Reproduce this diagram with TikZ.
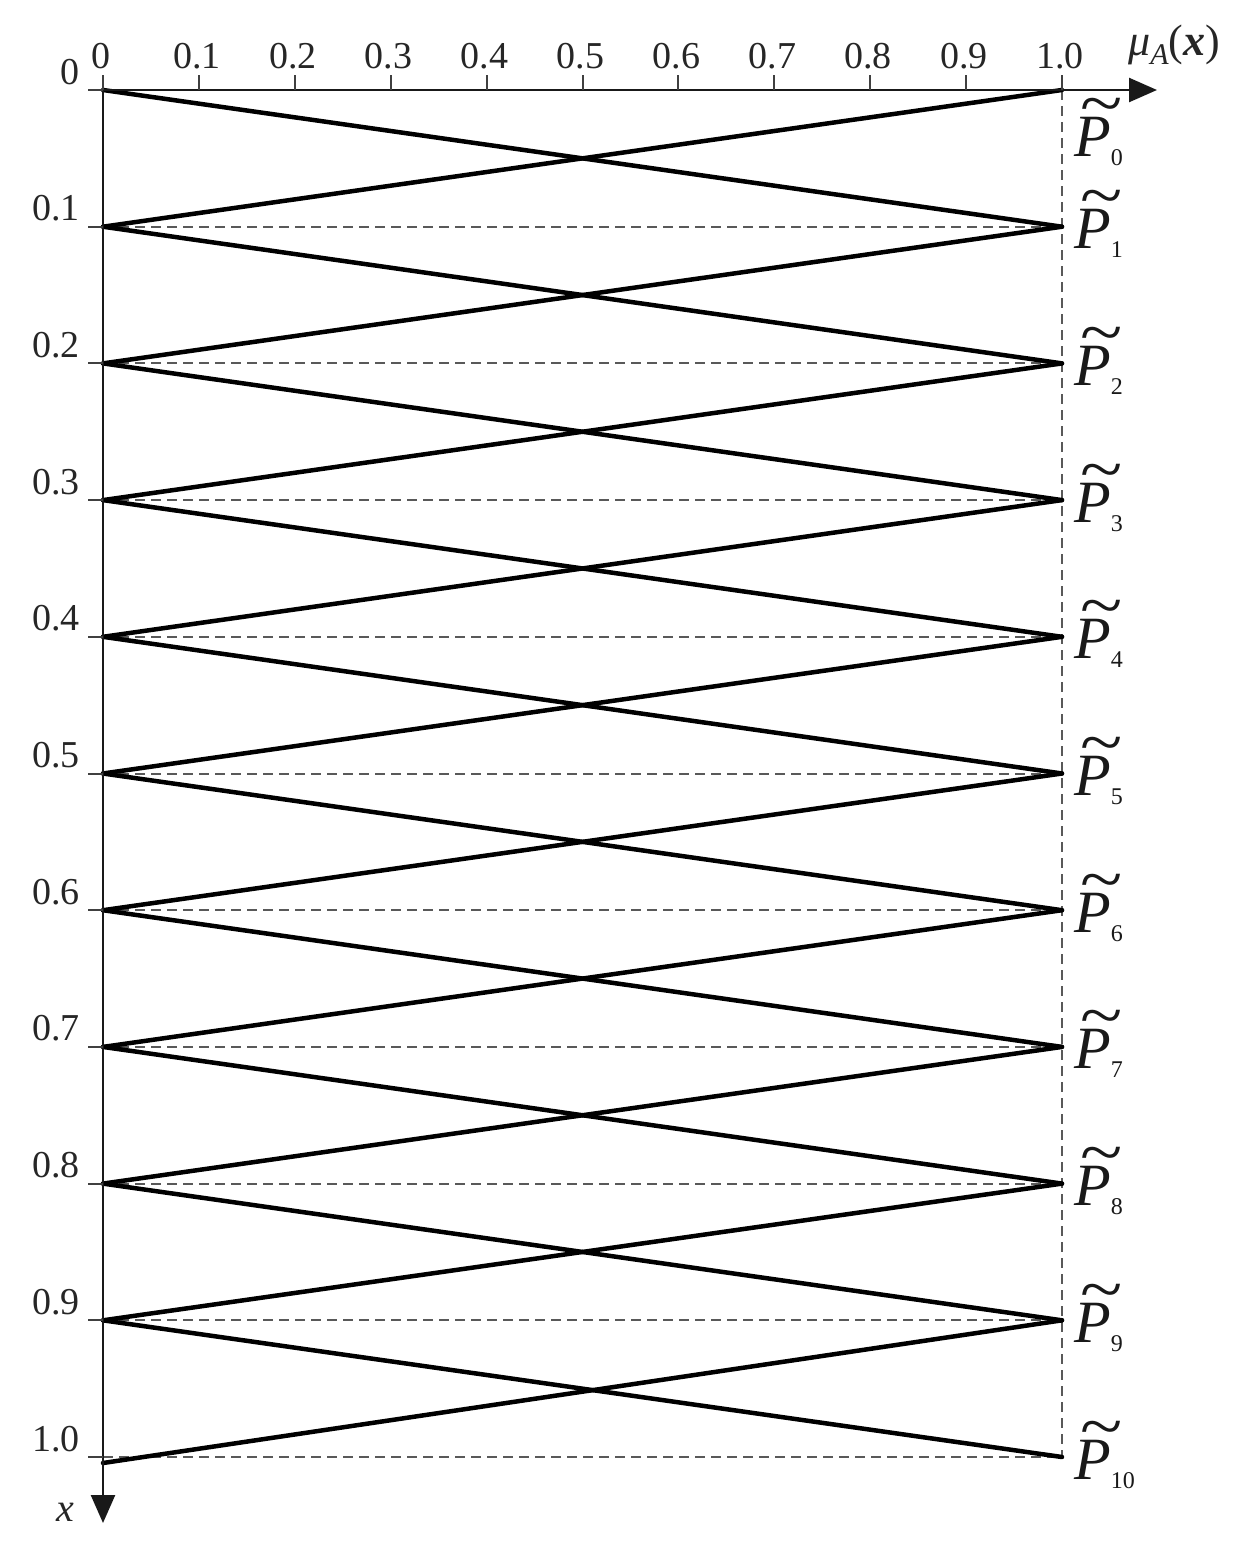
\documentclass[tikz,border=0pt]{standalone}
\usepackage{fontspec}
\usepackage{graphicx}
\setmainfont{Liberation Serif}
\usetikzlibrary{arrows.meta}
\newcommand{\ptilde}[1]{\rlap{\hspace{6pt}\raisebox{31pt}{\scalebox{1.3}[1.1]{\textasciitilde}}}\textit{P}\raisebox{-9pt}{\fontsize{24}{24}\selectfont #1}}
\begin{document}
\begin{tikzpicture}[x=1pt,y=-1pt,
  axis/.style={line width=2.5pt, black!90},
  zig/.style={line width=4.5pt, black, line cap=round},
  guide/.style={line width=2pt, black!65, dash pattern=on 10pt off 6pt},
  tickmark/.style={line width=2pt, black!75},
  lab/.style={font=\fontsize{38}{40}\selectfont, text=black!85, inner sep=0pt},
  plab/.style={font=\fontsize{60}{60}\selectfont, text=black!90, inner sep=0pt, anchor=base west}]
\useasboundingbox (0,0) rectangle (1247,1545);
\foreach \i in {0,...,10}{
  \pgfmathsetmacro\yy{90+136.7*\i}
  \coordinate (L\i) at (103,\yy);
  \coordinate (R\i) at (1062,\yy);
  \coordinate (T\i) at (88,\yy);
}
\coordinate (Lend) at (103,1463);
% guides
\foreach \i in {1,...,10}{\draw[guide] (L\i) -- (R\i);}
\draw[guide] (R0) -- (R10);
% zigzag
\foreach \i [evaluate=\i as \j using int(\i+1)] in {0,...,8}{
  \draw[zig] (L\i) -- (R\j);
  \draw[zig] (R\i) -- (L\j);
}
\draw[zig] (L9) -- (R10);
\draw[zig] (R9) -- (Lend);
% axes
\coordinate (xs) at (88,90);
\coordinate (xe) at (1157,90);
\coordinate (ys) at (103,75);
\coordinate (ye) at (103,1523);
\draw[axis,-{Triangle[length=28pt,width=24pt]}] (xs) -- (xe);
\draw[axis,-{Triangle[length=28pt,width=24pt]}] (ys) -- (ye);
% top ticks and labels
\foreach \i/\t in {0/0,1/0.1,2/0.2,3/0.3,4/0.4,5/0.5,6/0.6,7/0.7,8/0.8,9/0.9,10/1.0}{
  \pgfmathsetmacro\xx{103+95.9*\i}
  \coordinate (tb\i) at (\xx,90);
  \coordinate (tt\i) at (\xx,75);
  \draw[tickmark] (tb\i) -- (tt\i);
  \node[lab,anchor=base] (top\i) at (\xx-2,68) {\t};
}
% left ticks and labels
\foreach \i/\t in {0/0,1/0.1,2/0.2,3/0.3,4/0.4,5/0.5,6/0.6,7/0.7,8/0.8,9/0.9,10/1.0}{
  \draw[tickmark] (T\i) -- (L\i);
  \node[lab,anchor=base east] (lt\i) at ([xshift=-8pt,yshift=6pt]T\i) {\t};
}
% P labels
\node[plab] (p0) at (1074,156) {\ptilde{0}};
\foreach \i in {1,...,10}{
  \node[plab] (p\i) at ([xshift=12pt,yshift=-22pt]R\i) {\ptilde{\i}};
}
% axis names
\node[lab,anchor=base west,font=\fontsize{44}{44}\selectfont] (mu) at (1128,55) {\textit{μ}\raisebox{-9pt}{\fontsize{30}{30}\selectfont\itshape A}(\textbf{\textit{x}})};
\node[lab,anchor=base west,font=\fontsize{40}{40}\selectfont\itshape] (xl) at (56,1521) {x};
\end{tikzpicture}
\end{document}
